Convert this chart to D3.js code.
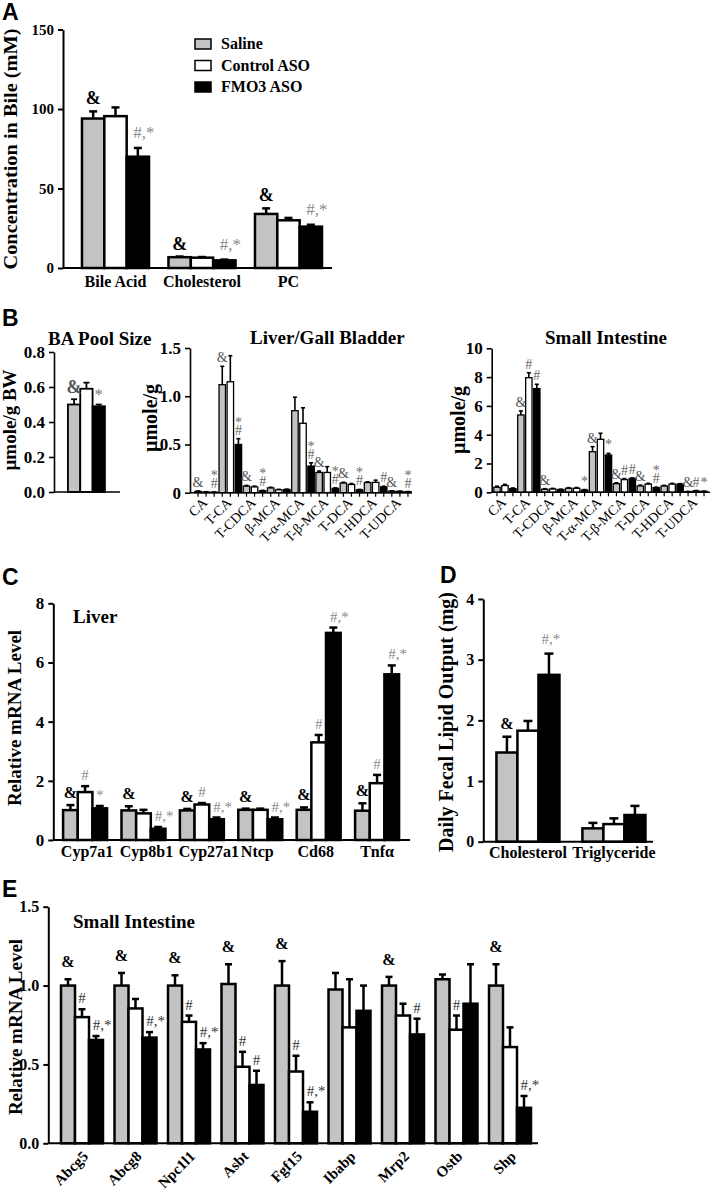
<!DOCTYPE html>
<html><head><meta charset="utf-8">
<script src="https://cdn.jsdelivr.net/npm/d3@7"></script>
<style>body{margin:0;background:#fff}svg{display:block}</style>
</head><body><svg id="c" width="711" height="1195"></svg>
<script>
// ---------- DATA ----------
const series = ["Saline", "Control ASO", "FMO3 ASO"];
const fills = ["#c3c3c3", "#ffffff", "#000000"];

// Panel A: Concentration in bile (mM)
const aCats = ["Bile Acid", "Cholesterol", "PC"];
const aSaline = [94, 6.8, 34];
const aSalineErr = [98.5, 7.2, 37.5];
const aControl = [95.5, 6.5, 30];
const aControlErr = [101, 6.9, 31.5];
const aFmo3 = [70, 4.8, 26];
const aFmo3Err = [75.5, 5.3, 27.2];
const aMarks = [["&", "&", "&"], ["", "", ""], ["#,*", "#,*", "#,*"]];
const aTicks = [0, 50, 100, 150];

// Panel B: BA pool size
const poolCats = ["Pool"];
const poolSaline = [0.50], poolSalineErr = [0.53];
const poolControl = [0.59], poolControlErr = [0.625];
const poolFmo3 = [0.49], poolFmo3Err = [0.50];
const poolMarks = [["&"], [""], ["*"]];
const poolTicks = [0, 0.2, 0.4, 0.6, 0.8];

// Panel B: bile acid species
const baCats = ["CA", "T-CA", "T-CDCA", "β-MCA", "T-α-MCA", "T-β-MCA", "T-DCA", "T-HDCA", "T-UDCA"];
const liverSaline = [0.014, 1.12, 0.068, 0.05, 0.85, 0.21, 0.10, 0.105, 0.017];
const liverSalineErr = [0.018, 1.31, 0.075, 0.056, 0.99, 0.225, 0.108, 0.113, 0.02];
const liverControl = [0.008, 1.15, 0.06, 0.03, 0.72, 0.21, 0.085, 0.107, 0.014];
const liverControlErr = [0.01, 1.42, 0.068, 0.035, 0.88, 0.27, 0.095, 0.13, 0.016];
const liverFmo3 = [0.006, 0.50, 0.02, 0.033, 0.276, 0.045, 0.03, 0.06, 0.01];
const liverFmo3Err = [0.008, 0.56, 0.024, 0.037, 0.31, 0.05, 0.034, 0.067, 0.012];
const liverMarks = [["&", "&", "&", "", "", "&", "&", "", "&"],
                    ["", "", "", "", "", "", "", "", ""],
                    ["*#", "*#", "*#", "", "*#", "*#", "*#", "#", "*#"]];
const liverTicks = [0, 0.5, 1.0, 1.5];

const siSaline = [0.35, 5.37, 0.21, 0.28, 2.82, 0.6, 0.44, 0.44, 0.05];
const siSalineErr = [0.42, 5.65, 0.25, 0.32, 3.17, 0.66, 0.5, 0.48, 0.06];
const siControl = [0.47, 7.96, 0.23, 0.28, 3.68, 0.88, 0.57, 0.57, 0.1];
const siControlErr = [0.55, 8.3, 0.27, 0.33, 4.1, 0.95, 0.62, 0.62, 0.12];
const siFmo3 = [0.25, 7.2, 0.19, 0.16, 2.59, 0.96, 0.32, 0.57, 0.07];
const siFmo3Err = [0.3, 7.5, 0.22, 0.19, 2.7, 1.0, 0.36, 0.6, 0.08];
const siMarks = [["", "&", "&", "", "&", "&", "&", "", "&"],
                 ["", "#", "", "", "", "#", "", "", "#"],
                 ["", "#", "", "*", "*", "#", "*#", "", "*"]];
const siTicks = [0, 2, 4, 6, 8, 10];

// Panel C: liver mRNA
const cCats = ["Cyp7a1", "Cyp8b1", "Cyp27a1", "Ntcp", "Cd68", "Tnfα"];
const cSaline = [1.01, 1.0, 1.0, 1.02, 1.02, 0.99];
const cSalineErr = [1.18, 1.14, 1.05, 1.06, 1.1, 1.24];
const cControl = [1.62, 0.9, 1.2, 1.02, 3.3, 1.92];
const cControlErr = [1.82, 1.02, 1.25, 1.06, 3.55, 2.2];
const cFmo3 = [1.07, 0.38, 0.7, 0.7, 7.0, 5.6];
const cFmo3Err = [1.15, 0.44, 0.76, 0.76, 7.18, 5.9];
const cMarks = [["&", "&", "&", "&", "&", "&"],
                ["#", "", "#", "", "#", "#"],
                ["*", "#,*", "#,*", "#,*", "#,*", "#,*"]];
const cTicks = [0, 2, 4, 6, 8];

// Panel D: fecal lipid output
const dCats = ["Cholesterol", "Triglyceride"];
const dSaline = [1.47, 0.22], dSalineErr = [1.73, 0.31];
const dControl = [1.83, 0.29], dControlErr = [1.99, 0.385];
const dFmo3 = [2.75, 0.44], dFmo3Err = [3.1, 0.59];
const dMarks = [["&", ""], ["", ""], ["#,*", ""]];
const dTicks = [0, 1, 2, 3, 4];

// Panel E: small intestine mRNA
const eCats = ["Abcg5", "Abcg8", "Npc1l1", "Asbt", "Fgf15", "Ibabp", "Mrp2", "Ostb", "Shp"];
const eSaline = [1.0, 1.0, 1.0, 1.01, 1.0, 0.975, 1.0, 1.04, 1.0];
const eSalineErr = [1.04, 1.08, 1.065, 1.135, 1.155, 1.08, 1.055, 1.07, 1.135];
const eControl = [0.80, 0.855, 0.77, 0.485, 0.455, 0.735, 0.81, 0.72, 0.61];
const eControlErr = [0.85, 0.915, 0.81, 0.58, 0.555, 1.04, 0.885, 0.81, 0.735];
const eFmo3 = [0.655, 0.67, 0.595, 0.37, 0.2, 0.84, 0.69, 0.885, 0.225];
const eFmo3Err = [0.68, 0.705, 0.635, 0.46, 0.26, 1.0, 0.79, 1.135, 0.3];
const eMarks = [["&", "&", "&", "&", "&", "", "&", "", "&"],
                ["#", "", "#", "#", "#", "", "", "#", ""],
                ["#,*", "#,*", "#,*", "#", "#,*", "", "#", "", "#,*"]];
const eTicks = [0, 0.5, 1.0, 1.5];

// ---------- DRAWING ----------
const SERIF = '"Liberation Serif","Times New Roman",serif';
const SANS = '"Liberation Sans",Arial,sans-serif';
const svg = d3.select("#c");

function panel(cfg) {
  const g = svg.append("g");
  const x = d3.scaleBand().domain(cfg.cats).range(cfg.xRange)
    .paddingInner(cfg.pi || 0).paddingOuter(cfg.po || 0).align(cfg.align == null ? 0.5 : cfg.align);
  const xi = d3.scaleBand().domain([0, 1, 2]).range([0, x.bandwidth()])
    .paddingInner(cfg.bi || 0).paddingOuter(cfg.bo || 0);
  const y = d3.scaleLinear().domain(cfg.yDomain).range(cfg.yRange);
  const cx = (i, s) => x(cfg.cats[i]) + xi(s) + xi.bandwidth() / 2;

  cfg.vals.forEach((arr, s) => {
    g.append("g").selectAll("rect").data(arr).enter().append("rect")
      .attr("x", (d, i) => x(cfg.cats[i]) + xi(s))
      .attr("y", d => y(d))
      .attr("width", xi.bandwidth())
      .attr("height", d => y(0) - y(d))
      .attr("fill", fills[s]).attr("stroke", "#000").attr("stroke-width", cfg.sw);
  });
  cfg.errs.forEach((arr, s) => {
    const eg = g.append("g").attr("stroke", "#000").attr("stroke-width", cfg.ew);
    arr.forEach((e, i) => {
      const c = cx(i, s);
      eg.append("line").attr("x1", c).attr("x2", c).attr("y1", y(cfg.vals[s][i])).attr("y2", y(e));
      eg.append("line").attr("x1", c - cfg.cap / 2).attr("x2", c + cfg.cap / 2).attr("y1", y(e)).attr("y2", y(e));
    });
  });
  // y axis
  const ya = g.append("g").attr("transform", `translate(${cfg.yAxisX},0)`)
    .call(d3.axisLeft(y).tickValues(cfg.ticks).tickFormat(cfg.fmt).tickSize(5).tickSizeOuter(0).tickPadding(cfg.tp || 4));
  ya.select(".domain").attr("stroke-width", cfg.aw);
  ya.selectAll(".tick line").attr("stroke-width", cfg.aw);
  ya.selectAll("text").attr("font-family", SERIF).attr("font-weight", "bold").attr("font-size", cfg.tickSize).attr("fill", "#000");
  // x axis line
  g.append("line").attr("x1", cfg.yAxisX).attr("x2", cfg.xAxisEnd).attr("y1", y(0)).attr("y2", y(0))
    .attr("stroke", "#000").attr("stroke-width", cfg.aw);
  if (cfg.barTicks) {
    cfg.cats.forEach((c, i) => [0, 1, 2].forEach(s => {
      g.append("line").attr("x1", cx(i, s)).attr("x2", cx(i, s)).attr("y1", y(0)).attr("y2", y(0) + 4)
        .attr("stroke", "#000").attr("stroke-width", 1.2);
    }));
  }
  // category labels
  if (cfg.noLabels) {
    // no category labels
  } else if (cfg.rotate) {
    g.append("g").selectAll("text").data(cfg.cats).enter().append("text")
      .attr("transform", d => `translate(${x(d) + x.bandwidth() / 2 + cfg.lx},${y(0) + cfg.ly}) rotate(-45)`)
      .attr("text-anchor", "end").attr("font-family", SERIF).attr("font-size", cfg.labelSize)
      .attr("font-weight", cfg.labelWeight || "normal").text(d => d);
  } else {
    const ldx = cfg.labelDx || {};
    g.append("g").selectAll("text").data(cfg.cats).enter().append("text")
      .attr("x", d => x(d) + x.bandwidth() / 2 + (ldx[d] || 0)).attr("y", cfg.labelY)
      .attr("text-anchor", "middle").attr("font-family", SERIF).attr("font-size", cfg.labelSize)
      .attr("font-weight", "bold").text(d => d);
  }
  // significance marks
  cfg.marks.forEach((arr, s) => arr.forEach((m, i) => {
    if (!m) return;
    const c = cx(i, s);
    const top = y(cfg.errs[s][i]);
    if (cfg.stack) {
      // one text element, each symbol on its own line (bottom symbol last)
      const chars = m.split("");
      const t = g.append("text").attr("text-anchor", "middle").attr("font-family", SERIF)
        .attr("font-size", cfg.markSize).attr("fill", cfg.markColor);
      chars.forEach((ch, k) => {
        const fromBottom = chars.length - 1 - k;
        t.append("tspan").attr("x", c).attr("y", top - cfg.markOff - fromBottom * 8)
          .attr("fill", ch === "&" ? cfg.ampColor : cfg.markColor).text(ch);
      });
    } else if (m === "&") {
      g.append("text").attr("x", c).attr("y", top - cfg.ampOff).attr("text-anchor", "middle")
        .attr("font-family", SERIF).attr("font-weight", "bold").attr("font-size", cfg.markSize + 1)
        .attr("fill", cfg.ampColor || "#000").text(m);
    } else {
      g.append("text").attr("x", c + (m.length > 1 ? cfg.comboDx : 0)).attr("y", top - cfg.markOff).attr("text-anchor", "middle")
        .attr("font-family", SERIF).attr("font-size", cfg.markSize).attr("fill", cfg.markColor).text(m);
    }
  }));
  // y title
  g.append("text").attr("transform", `translate(${cfg.titleX},${cfg.titleY}) rotate(-90)`)
    .attr("text-anchor", "middle").attr("font-family", SERIF).attr("font-weight", "bold")
    .attr("font-size", cfg.titleSize).text(cfg.title)
    .each(function () { if (cfg.titleLen) d3.select(this).attr("textLength", cfg.titleLen).attr("lengthAdjust", "spacingAndGlyphs"); });
  return g;
}

function letter(t, x, y) {
  svg.append("text").attr("x", x).attr("y", y).attr("font-family", SANS).attr("font-weight", "bold")
    .attr("font-size", 23).text(t);
}
function heading(t, x, y, size, anchor) {
  svg.append("text").attr("x", x).attr("y", y).attr("font-family", SERIF).attr("font-weight", "bold")
    .attr("font-size", size).attr("text-anchor", anchor || "start").text(t);
}

// Panel A
letter("A", 2, 20);
panel({
  cats: aCats, vals: [aSaline, aControl, aFmo3], errs: [aSalineErr, aControlErr, aFmo3Err], marks: aMarks,
  xRange: [63, 332], pi: 0.225, po: 0.1675, align: 0.655, yDomain: [0, 150], yRange: [268, 29.5],
  ticks: aTicks, fmt: d3.format("d"), yAxisX: 63, xAxisEnd: 332, sw: 2.5, ew: 2.5, cap: 8, aw: 2,
  tickSize: 15, labelSize: 16, labelY: 287, markSize: 17, markOff: 10, ampOff: 7, markColor: "#8a8a8a", comboDx: 6,
  title: "Concentration in Bile (mM)", titleX: 17, titleY: 149, titleSize: 18, titleLen: 241
});
// legend
const legend = svg.append("g").attr("transform", "translate(195,39)");
series.forEach((s, i) => {
  legend.append("rect").attr("x", 0).attr("y", i * 21.5).attr("width", 16).attr("height", 10)
    .attr("fill", fills[i]).attr("stroke", "#000").attr("stroke-width", 1.5);
  legend.append("text").attr("x", 26).attr("y", i * 21.5 + 10).attr("font-family", SERIF).attr("font-weight", "bold")
    .attr("font-size", 16).text(s);
});

// Panel B
letter("B", 2, 326);
heading("BA Pool Size", 48, 345, 19);
heading("Liver/Gall Bladder", 250, 344, 19);
heading("Small Intestine", 545, 344, 19);
panel({
  cats: poolCats, vals: [poolSaline, poolControl, poolFmo3], errs: [poolSalineErr, poolControlErr, poolFmo3Err], marks: poolMarks,
  xRange: [54, 120], pi: 0, po: 0.392, align: 0.48, yDomain: [0, 0.8], yRange: [492, 352],
  ticks: poolTicks, fmt: d3.format(".1f"), yAxisX: 54, xAxisEnd: 120, sw: 1.8, ew: 1.8, cap: 6, aw: 1.6,
  tickSize: 17, noLabels: true, markSize: 17, markOff: 5, ampOff: 6, markColor: "#777", ampColor: "#555", comboDx: 0,
  title: "µmole/g BW", titleX: 16, titleY: 420, titleSize: 19
});
panel({
  cats: baCats, vals: [liverSaline, liverControl, liverFmo3], errs: [liverSalineErr, liverControlErr, liverFmo3Err], marks: liverMarks,
  xRange: [194, 412], pi: 0, po: 0, bi: 0.2, bo: 0.1, yDomain: [0, 1.5], yRange: [492.7, 348],
  ticks: liverTicks, fmt: v => v === 0 ? "0" : d3.format(".1f")(v), yAxisX: 190, xAxisEnd: 412, sw: 1.3, ew: 1.6, cap: 4, aw: 1.6,
  tickSize: 17, labelSize: 14, rotate: true, lx: 2, ly: 11, barTicks: true, stack: true,
  markSize: 14, markOff: 4, ampOff: 4, markColor: "#666", ampColor: "#555", comboDx: 0,
  title: "µmole/g", titleX: 157, titleY: 418, titleSize: 20
});
panel({
  cats: baCats, vals: [siSaline, siControl, siFmo3], errs: [siSalineErr, siControlErr, siFmo3Err], marks: siMarks,
  xRange: [493, 708], pi: 0, po: 0, bi: 0.2, bo: 0.1, yDomain: [0, 10], yRange: [492.3, 348.3],
  ticks: siTicks, fmt: d3.format("d"), yAxisX: 491.7, xAxisEnd: 710, sw: 1.3, ew: 1.6, cap: 4, aw: 1.6,
  tickSize: 17, labelSize: 14, rotate: true, lx: 2, ly: 11, barTicks: true, stack: true,
  markSize: 14, markOff: 4, ampOff: 4, markColor: "#666", ampColor: "#555", comboDx: 0,
  title: "µmole/g", titleX: 465, titleY: 420, titleSize: 20
});

// Panel C
letter("C", 2, 585);
heading("Liver", 73, 623, 19);
panel({
  cats: cCats, vals: [cSaline, cControl, cFmo3], errs: [cSalineErr, cControlErr, cFmo3Err], marks: cMarks,
  xRange: [53, 410], pi: 0.247, po: 0.18, align: 0.48, yDomain: [0, 8], yRange: [840, 603.3],
  ticks: cTicks, fmt: d3.format("d"), yAxisX: 53.3, xAxisEnd: 410, sw: 2.5, ew: 2.5, cap: 8, aw: 2,
  tickSize: 17, labelSize: 16, labelY: 857, labelDx: { "Cyp7a1": 2, "Cyp8b1": 3, "Cyp27a1": 7, "Ntcp": -3, "Cd68": -3 },
  markSize: 15, markOff: 6, ampOff: 7, markColor: "#8a8a8a", comboDx: 6,
  title: "Relative mRNA Level", titleX: 21, titleY: 718, titleSize: 19
});

// Panel D
letter("D", 440, 583);
panel({
  cats: dCats, vals: [dSaline, dControl, dFmo3], errs: [dSalineErr, dControlErr, dFmo3Err], marks: dMarks,
  xRange: [483, 653], pi: 0.267, po: 0.122, align: 0.64, yDomain: [0, 4], yRange: [841.7, 599],
  ticks: dTicks, fmt: d3.format("d"), yAxisX: 483.3, xAxisEnd: 653, sw: 2.5, ew: 2.5, cap: 9, aw: 2,
  tickSize: 16, labelSize: 16, labelY: 858, markSize: 15, markOff: 10, ampOff: 8, markColor: "#8a8a8a", comboDx: 2,
  title: "Daily Fecal Lipid Output (mg)", titleX: 453, titleY: 722, titleSize: 20
});

// Panel E
letter("E", 2, 897);
heading("Small Intestine", 73, 928, 19);
panel({
  cats: eCats, vals: [eSaline, eControl, eFmo3], errs: [eSalineErr, eControlErr, eFmo3Err], marks: eMarks,
  xRange: [48, 538], pi: 0.215, po: 0.187, align: 0.65, yDomain: [0, 1.5], yRange: [1143.3, 906.7],
  ticks: eTicks, fmt: d3.format(".1f"), yAxisX: 48.3, xAxisEnd: 538, sw: 2.5, ew: 2.5, cap: 7, aw: 2,
  tickSize: 16, labelSize: 15, labelWeight: "bold", rotate: true, lx: 7, ly: 14,
  markSize: 15, markOff: 6, ampOff: 12, markColor: "#333", comboDx: 6,
  title: "Relative mRNA Level", titleX: 22, titleY: 1027, titleSize: 19
});
</script></body></html>
